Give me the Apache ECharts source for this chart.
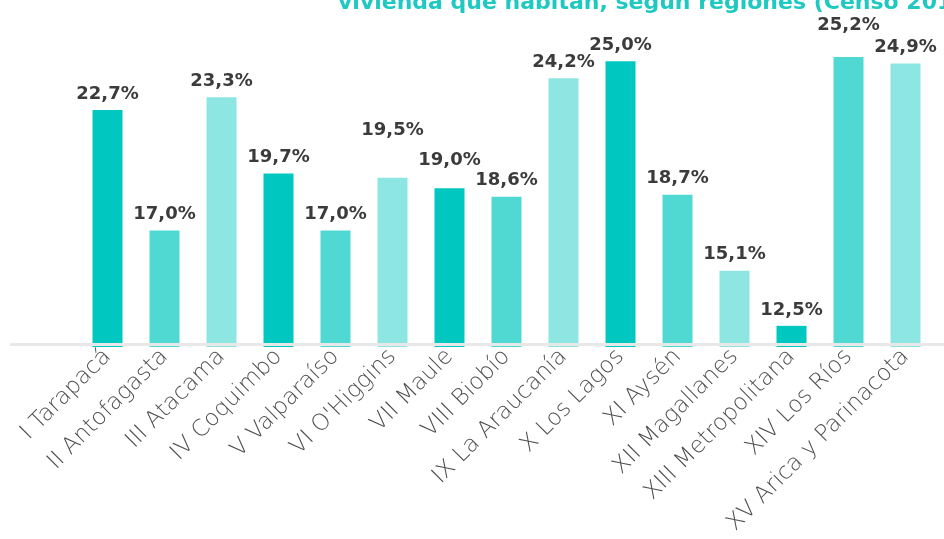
<!DOCTYPE html>
<html>
<head>
<meta charset="utf-8">
<script src="https://cdn.jsdelivr.net/npm/echarts@6/dist/echarts.min.js"></script>
<style>
  html, body { margin: 0; padding: 0; background: #fff; }
  #chart { width: 944px; height: 539px; }
</style>
</head>
<body>
<div id="chart"></div>
<script>
const regions = ['I Tarapacá', 'II Antofagasta', 'III Atacama', 'IV Coquimbo', 'V Valparaíso',
    'VI O\'Higgins', 'VII Maule', 'VIII Biobío', 'IX La Araucanía', 'X Los Lagos',
    'XI Aysén', 'XII Magallanes', 'XIII Metropolitana', 'XIV Los Ríos', 'XV Arica y Parinacota'];
const values = [22.7, 17.0, 23.3, 19.7, 17.0, 19.5, 19.0, 18.6, 24.2, 25.0, 18.7, 15.1, 12.5, 25.2, 24.9];
const palette = ['#00c7c0', '#4fd9d2', '#8ee6e2'];
const titleText = 'vivienda que habitan, según regiones (Censo 2017)';

const chart = echarts.init(document.getElementById('chart'));

// labels lifted by hand in the original to keep them from colliding
const labelLift = {5: -31, 6: -12, 13: -16};

const option = {
    animation: false,
    title: {
        text: titleText,
        left: 333,
        top: -13,
        textStyle: {
            color: '#1ec9c1',
            fontSize: 22,
            fontWeight: 'bold',
            fontFamily: 'DejaVu Sans'
        }
    },
    grid: {
        left: 79,
        right: 10,
        top: 19,
        bottom: 192
    },
    xAxis: {
        type: 'category',
        data: regions,
        offset: -3,
        axisLine: {show: false},
        axisTick: {show: false},
        axisLabel: {
            rotate: 45,
            interval: 0,
            margin: 9,
            color: '#4e4e4e',
            fontSize: 23,
            fontFamily: 'DejaVu Sans',
            fontWeight: 200
        }
    },
    yAxis: {
        type: 'value',
        min: 11.5,
        max: 27,
        show: false,
        splitLine: {show: false}
    },
    graphic: [{
        type: 'line',
        shape: {x1: 10, y1: 344.5, x2: 944, y2: 344.5},
        style: {stroke: '#e8e8e8', lineWidth: 3},
        z: 100
    }],
    series: [{
        type: 'bar',
        barWidth: 30,
        data: values.map(function (v, i) {
            return {value: v, itemStyle: {color: palette[i % 3]}};
        }),
        label: {
            show: true,
            position: 'top',
            distance: 7,
            color: '#3b3b3b',
            fontSize: 18,
            fontWeight: 'bold',
            fontFamily: 'DejaVu Sans',
            formatter: function (p) {
                return p.value.toFixed(1).replace('.', ',') + '%';
            }
        },
        labelLayout: function (params) {
            return {dy: labelLift[params.dataIndex] || 0};
        }
    }]
};

chart.setOption(option);
</script>
</body>
</html>
